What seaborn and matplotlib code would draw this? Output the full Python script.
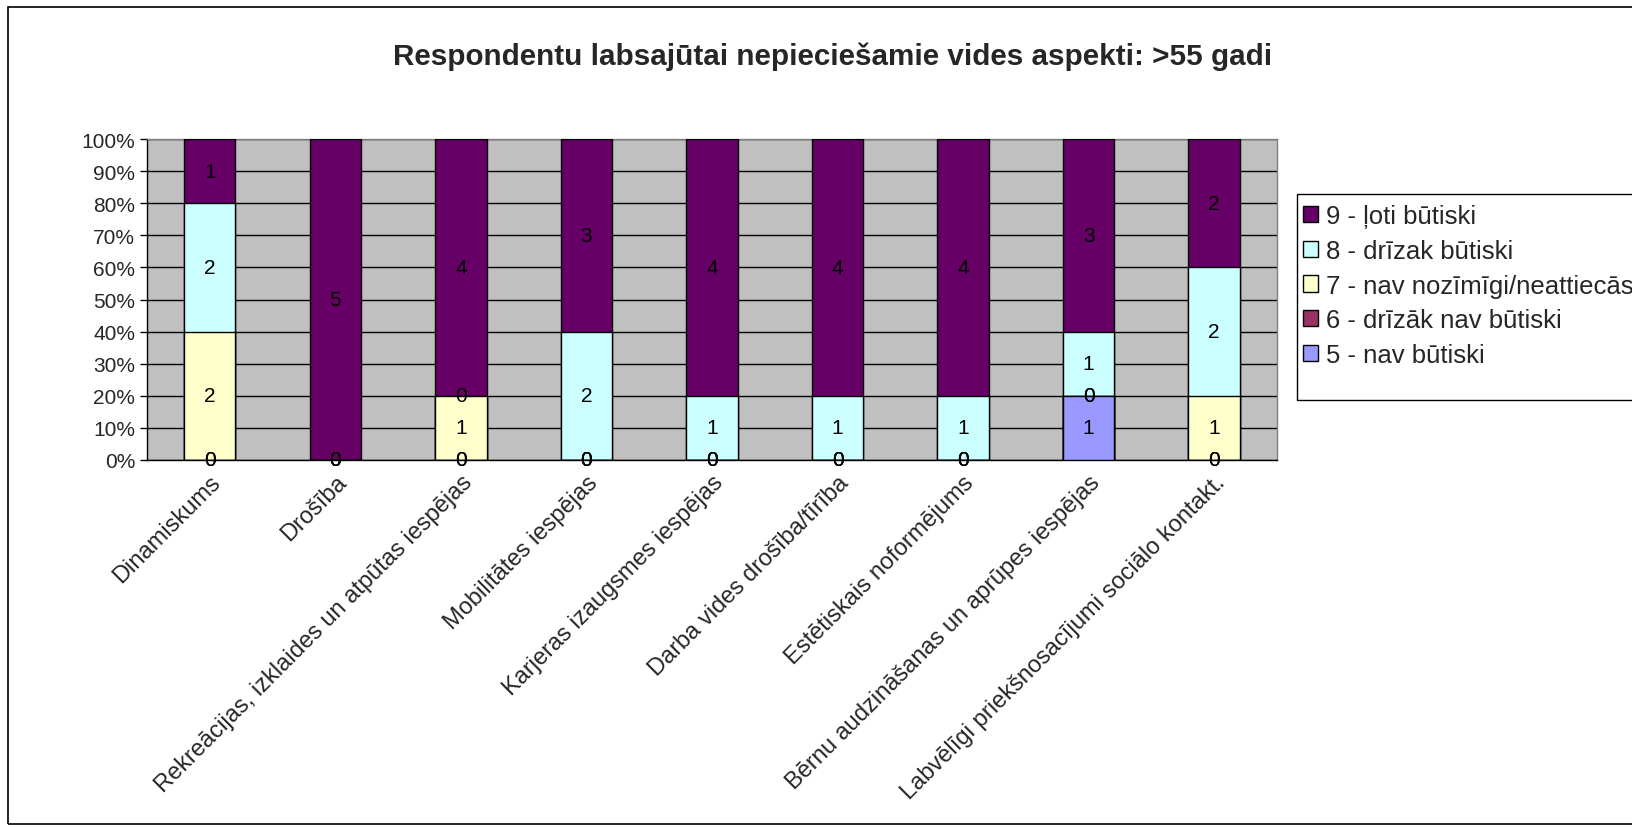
import matplotlib
matplotlib.use("Agg")
import matplotlib.pyplot as plt
from matplotlib.patches import Patch, Rectangle
import numpy as np
import pandas as pd
import seaborn as sns

# Categories (environment aspects)
categories = [
    "Dinamiskums",
    "Drošība",
    "Rekreācijas, izklaides un atpūtas iespējas",
    "Mobilitātes iespējas",
    "Karjeras izaugsmes iespējas",
    "Darba vides drošība/tīrība",
    "Estētiskais noformējums",
    "Bērnu audzināšanas un aprūpes iespējas",
    "Labvēlīgi priekšnosacījumi sociālo kontakt.",
]

# Answer counts per rating, stacked bottom to top
series_names = [
    "5 - nav būtiski",
    "6 - drīzāk nav būtiski",
    "7 - nav nozīmīgi/neattiecās",
    "8 - drīzak būtiski",
    "9 - ļoti būtiski",
]
counts_5 = [0, 0, 0, 0, 0, 0, 0, 1, 0]
counts_6 = [0, 0, 0, 0, 0, 0, 0, 0, 0]
counts_7 = [2, 0, 1, 0, 0, 0, 0, 0, 1]
counts_8 = [2, 0, 0, 2, 1, 1, 1, 1, 2]
counts_9 = [1, 5, 4, 3, 4, 4, 4, 3, 2]
series_colors = ["#9999FF", "#993366", "#FFFFCC", "#CCFFFF", "#660066"]

y_ticks = [0, 10, 20, 30, 40, 50, 60, 70, 80, 90, 100]
y_tick_labels = [f"{t}%" for t in y_ticks]

title = "Respondentu labsajūtai nepieciešamie vides aspekti: >55 gadi"

sns.set_style("white")
plt.rcParams["font.family"] = ["Liberation Sans", "DejaVu Sans"]

counts = np.array([counts_5, counts_6, counts_7, counts_8, counts_9], dtype=float)
totals = counts.sum(axis=0)
shares = counts / totals * 100.0
tops = np.cumsum(shares, axis=0)
bottoms = tops - shares

W, H = 1633, 829
fig = plt.figure(figsize=(W / 100, H / 100), dpi=100)
ax = fig.add_axes([0.090, 0.444, 0.692, 0.387])
ax.set_facecolor("#C0C0C0")

# Outer chart border
fig.patches.append(Rectangle((0.005, 0.005), 1.2, 0.985, transform=fig.transFigure,
                             fill=False, edgecolor="black", linewidth=1.2, zorder=0))

# Stacked bars: draw cumulative tops from the highest series down
for i in range(len(series_names) - 1, -1, -1):
    df = pd.DataFrame({"kategorija": categories, "vertiba": tops[i]})
    sns.barplot(data=df, x="kategorija", y="vertiba", order=categories,
                color=series_colors[i], saturation=1, width=0.41,
                edgecolor="black", linewidth=1.0, errorbar=None, ax=ax, zorder=3)

# Data labels centred in each segment
for i in range(len(series_names)):
    for j in range(len(categories)):
        yc = bottoms[i, j] + shares[i, j] / 2
        ax.text(j, yc, f"{int(counts[i, j])}", ha="center", va="center",
                fontsize=15, color="black", zorder=5)

ax.set_xlim(-0.5, len(categories) - 0.5)
ax.set_ylim(0, 100)
ax.set_yticks(y_ticks)
ax.set_yticklabels(y_tick_labels, fontsize=15)
ax.yaxis.grid(True, color="black", linewidth=1.0, zorder=1)
ax.set_axisbelow(True)
ax.set_xlabel("")
ax.set_ylabel("")

ax.set_xticks(range(len(categories)))
ax.set_xticklabels(categories, rotation=45, ha="right", rotation_mode="anchor",
                   fontsize=17)
ax.set_xticks(np.arange(-0.5, len(categories), 1.0), minor=True)
ax.tick_params(axis="x", which="major", length=0, pad=8)
ax.tick_params(axis="x", which="minor", length=5, width=1, color="black", direction="out")
ax.tick_params(axis="y", which="major", length=5, width=1, color="black",
               direction="out", left=True)

for side in ["top", "right"]:
    ax.spines[side].set_color("#808080")
    ax.spines[side].set_linewidth(1.0)
for side in ["left", "bottom"]:
    ax.spines[side].set_color("black")
    ax.spines[side].set_linewidth(1.0)

fig.text(0.51, 0.932, title, ha="center", va="center", fontsize=21.3, fontweight="bold")

# Legend box and entries
fig.patches.append(Rectangle((1297 / W, 1 - 401 / H), 0.3, (401 - 195) / H,
                             transform=fig.transFigure, fill=False,
                             edgecolor="black", linewidth=1.0, zorder=1))
handles = [Patch(facecolor=series_colors[i], edgecolor="black", linewidth=1.0,
                 label=series_names[i]) for i in range(len(series_names) - 1, -1, -1)]
leg = fig.legend(handles=handles, loc="upper left", bbox_to_anchor=(1303 / W, 1 - 205 / H),
                 frameon=False, fontsize=18.5,
                 handlelength=0.6, handleheight=0.6, handletextpad=0.3,
                 labelspacing=0.42, borderpad=0, borderaxespad=0)

fig.savefig("out.png", dpi=100, facecolor="white")
